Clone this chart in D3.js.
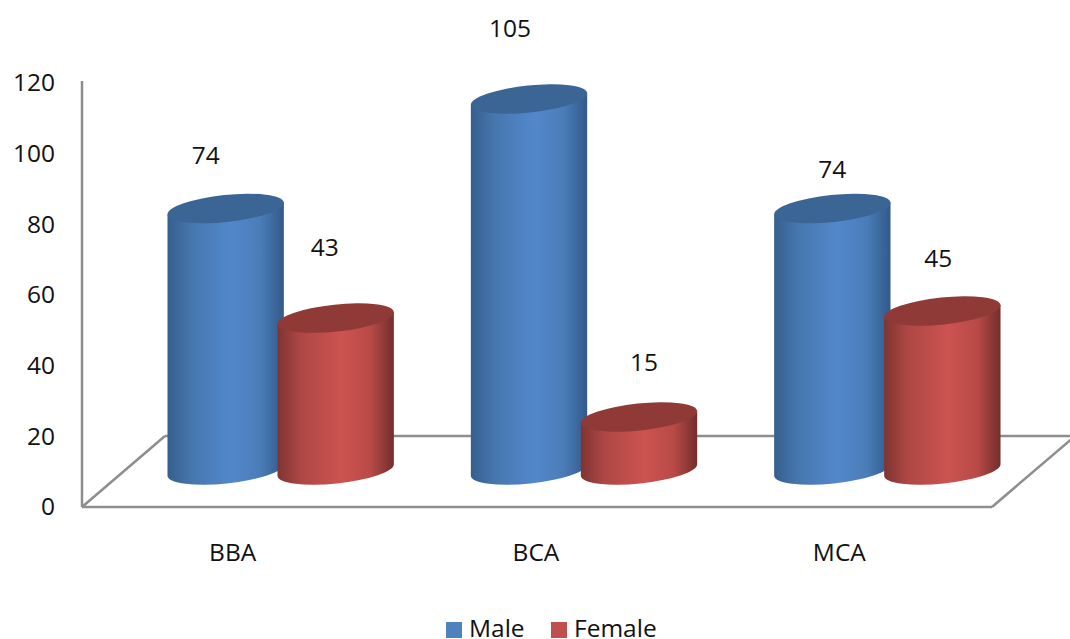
<!DOCTYPE html>
<html>
<head>
<meta charset="utf-8">
<script src="https://cdn.jsdelivr.net/npm/d3@7"></script>
<style>
  html, body { margin: 0; padding: 0; background: #fff; overflow: hidden; }
  text { font-family: "Open Sans", sans-serif; fill: #111; }
</style>
</head>
<body>
<script>
const categories = ['BBA', 'BCA', 'MCA'];
const seriesNames = ['Male', 'Female'];
const maleValues = [74, 105, 74];
const femaleValues = [43, 15, 45];
const yTicks = [0, 20, 40, 60, 80, 100, 120];

const WIDTH = 1070;
const HEIGHT = 639;

// bars stand in the middle of the floor, so they are shifted from the front edge
const BAR_SHIFT_X = 47;
const BAR_SHIFT_Y = -37;
const FLOOR_DX = 83;
const FLOOR_DY = -71;
const RX = 58.5;
const RY = 13.5;
const TILT = -6;
const FONT_SIZE = '24.5px';

const colors = {
  Male: {
    stops: [[0, '#355f8e'], [0.2, '#4676ae'], [0.55, '#5288cb'], [0.8, '#4a7cb7'], [1, '#33598a']],
    cap: '#3a6594',
    key: '#4f81bd',
  },
  Female: {
    stops: [[0, '#7f3432'], [0.2, '#ae4744'], [0.55, '#cc5350'], [0.8, '#b84a47'], [1, '#722e2c']],
    cap: '#8f3a37',
    key: '#c0504d',
  },
};

// hand placed in the original, offset from the centre of each bar top
const labelNudge = {
  Male: [[-20, -53], [-19, -70], [0, -39]],
  Female: [[-11, -70], [5, -54], [-4, -52]],
};

const x = d3.scaleBand().domain(categories).range([82, 992]);
const xInner = d3.scalePoint().domain(seriesNames).range([-55, 55]);
const y = d3.scaleLinear().domain([0, 120]).range([507, 83]);

const svg = d3.select('body')
  .append('svg')
  .attr('width', WIDTH)
  .attr('height', HEIGHT);

const defs = svg.append('defs');
seriesNames.forEach((name) => {
  const grad = defs.append('linearGradient')
    .attr('id', 'body-' + name);
  colors[name].stops.forEach((s) => {
    grad.append('stop')
      .attr('offset', s[0])
      .attr('stop-color', s[1]);
  });
});

// floor and wall
const left = x.range()[0];
const right = x.range()[1];
const wallLines = [
  [left, y(0), left, 81],
  [left, y(0), right, y(0)],
  [left, y(0), left + FLOOR_DX, y(0) + FLOOR_DY],
  [left + FLOOR_DX, y(0) + FLOOR_DY, right + FLOOR_DX, y(0) + FLOOR_DY],
  [right, y(0), right + FLOOR_DX, y(0) + FLOOR_DY],
];
svg.append('g').selectAll('line')
  .data(wallLines)
  .enter()
  .append('line')
  .attr('x1', d => d[0])
  .attr('y1', d => d[1])
  .attr('x2', d => d[2])
  .attr('y2', d => d[3])
  .attr('stroke', '#8e8e8e')
  .attr('stroke-width', 2.5);

// y axis
const yAxis = svg.append('g')
  .attr('transform', `translate(${left},0)`)
  .call(d3.axisLeft(y).tickValues(yTicks).tickSize(0).tickPadding(27));
yAxis.select('.domain').remove();
yAxis.selectAll('text').style('font-size', FONT_SIZE).style('font-family', '"Open Sans", sans-serif');

// x labels
svg.append('g').selectAll('text')
  .data(categories)
  .enter()
  .append('text')
  .attr('x', d => x(d) + x.bandwidth() / 2 - 1)
  .attr('y', 561)
  .attr('text-anchor', 'middle')
  .style('font-size', FONT_SIZE)
  .text(d => d);

// cylinders
const barData = [];
categories.forEach((cat, i) => {
  barData.push({cat: cat, i: i, series: 'Male', value: maleValues[i]});
  barData.push({cat: cat, i: i, series: 'Female', value: femaleValues[i]});
});

const dx = RX * Math.cos(TILT * Math.PI / 180);
const dy = RX * Math.sin(TILT * Math.PI / 180);

function centerX(d) {
  return x(d.cat) + x.bandwidth() / 2 + BAR_SHIFT_X + xInner(d.series);
}

function bodyPath(d) {
  const cx = centerX(d);
  const top = y(d.value) + BAR_SHIFT_Y;
  const base = y(0) + BAR_SHIFT_Y;
  return `M${cx - dx},${top - dy}` +
    `L${cx - dx},${base - dy}` +
    `A${RX},${RY} ${TILT} 0 0 ${cx + dx},${base + dy}` +
    `L${cx + dx},${top + dy}Z`;
}

const bars = svg.append('g').selectAll('g')
  .data(barData)
  .enter()
  .append('g');

bars.append('path')
  .attr('d', bodyPath)
  .attr('fill', d => `url(#body-${d.series})`);

bars.append('ellipse')
  .attr('rx', RX)
  .attr('ry', RY)
  .attr('transform', d => `translate(${centerX(d)},${y(d.value) + BAR_SHIFT_Y}) rotate(${TILT})`)
  .attr('fill', d => colors[d.series].cap);

// value labels
svg.append('g').selectAll('text')
  .data(barData)
  .enter()
  .append('text')
  .attr('x', d => centerX(d) + labelNudge[d.series][d.i][0])
  .attr('y', d => y(d.value) + BAR_SHIFT_Y + labelNudge[d.series][d.i][1] + 8)
  .attr('text-anchor', 'middle')
  .style('font-size', FONT_SIZE)
  .text(d => d.value);

// legend
const legendX = d3.scaleOrdinal().domain(seriesNames).range([446, 551]);
const legend = svg.append('g').selectAll('g')
  .data(seriesNames)
  .enter()
  .append('g')
  .attr('transform', d => `translate(${legendX(d)},622)`);

legend.append('rect')
  .attr('width', 16)
  .attr('height', 16)
  .attr('fill', d => colors[d].key);

legend.append('text')
  .attr('x', 23)
  .attr('y', 15)
  .style('font-size', '24.5px')
  .text(d => d);
</script>
</body>
</html>
